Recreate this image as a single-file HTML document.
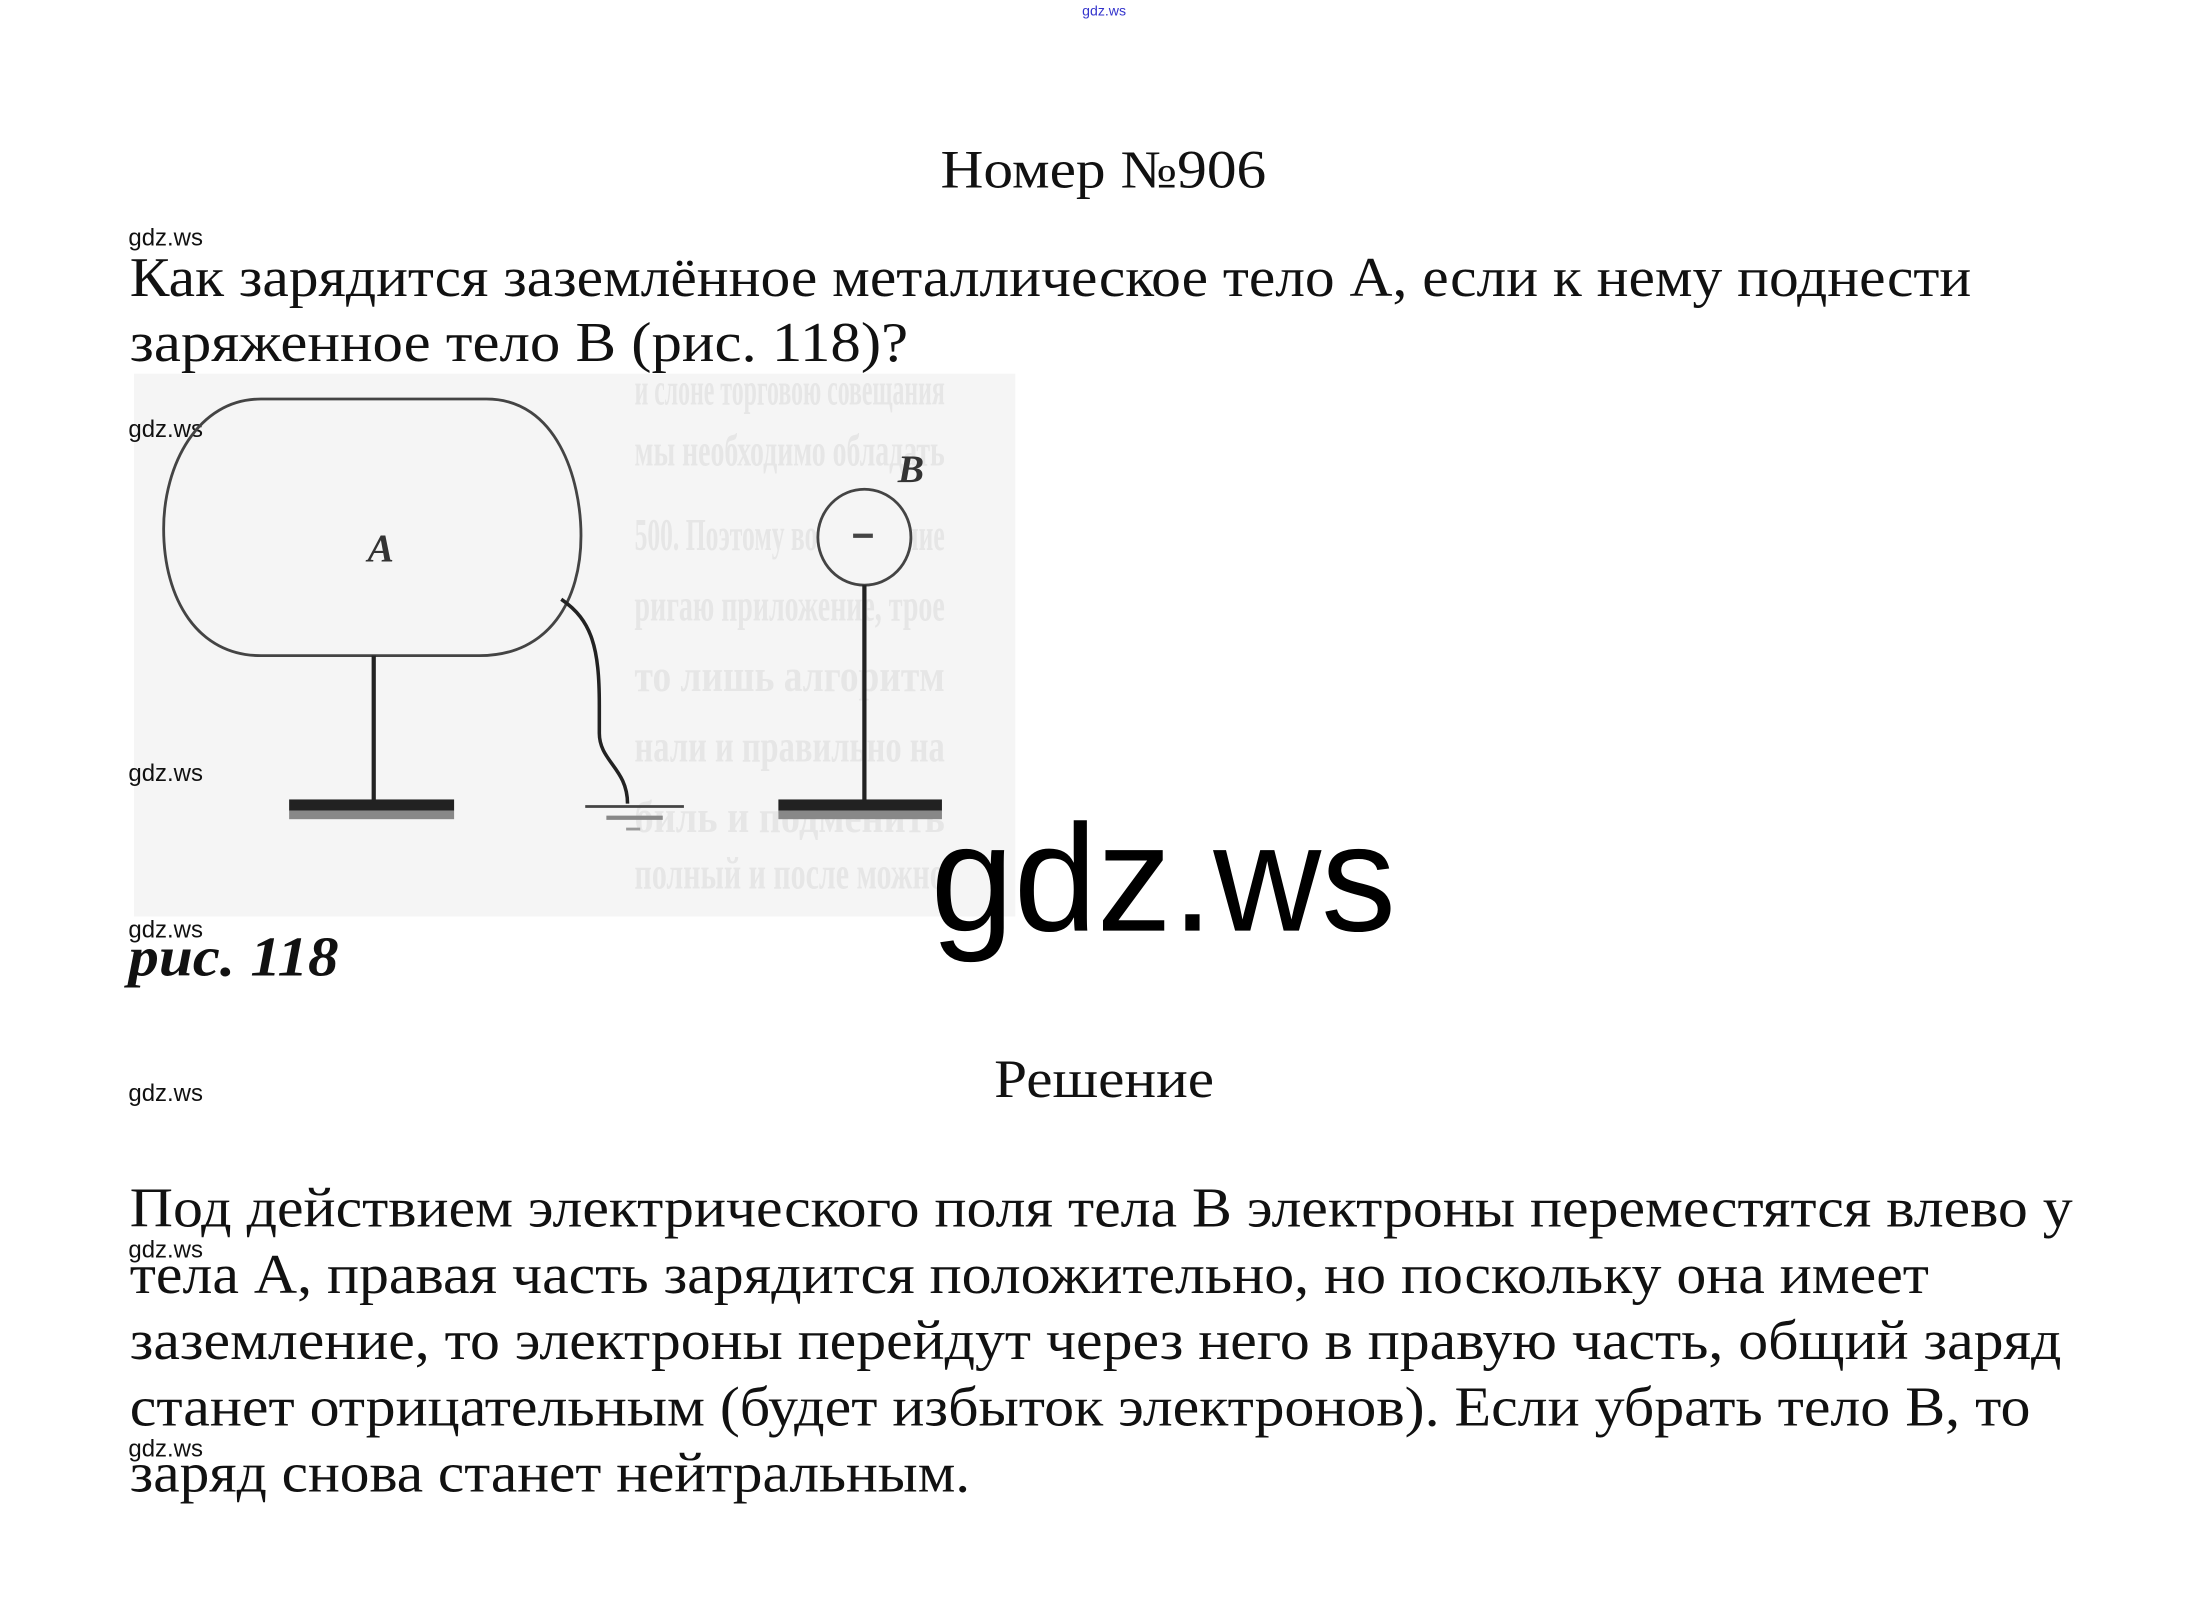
<!DOCTYPE html>
<html><head><meta charset="utf-8"><style>
html,body{margin:0;padding:0;background:#fff;width:2211px;height:1613px;overflow:hidden}
svg{display:block}
.s{font-family:"Liberation Serif",serif;fill:#111}
.w{font-family:"Liberation Sans",sans-serif;fill:#111;font-size:17px}
.g{font-family:"Liberation Serif",serif;fill:#e6e6e6;font-size:32px;font-weight:bold}
</style></head><body>
<svg width="2211" height="1613" viewBox="0 0 1568 1144" xmlns="http://www.w3.org/2000/svg">
<text x="783" y="11" font-family="Liberation Sans,sans-serif" font-size="10" fill="#33c" text-anchor="middle">gdz.ws</text>
<text class="s" x="667" y="133" font-size="38" textLength="231" lengthAdjust="spacingAndGlyphs">Номер №906</text>
<text class="w" x="91" y="174">gdz.ws</text>
<text class="s" x="92" y="210" font-size="40" textLength="1306" lengthAdjust="spacingAndGlyphs">Как зарядится заземлённое металлическое тело А, если к нему поднести</text>
<text class="s" x="92" y="256" font-size="40" textLength="552" lengthAdjust="spacingAndGlyphs">заряженное тело В (рис. 118)?</text>
<rect x="95" y="265" width="625" height="385" fill="#f5f5f5"/>
<g class="g">
<text x="450" y="287" textLength="220" lengthAdjust="spacingAndGlyphs">и слоне торговою совещания</text>
<text x="450" y="330" textLength="220" lengthAdjust="spacingAndGlyphs">мы необходимо обладать</text>
<text x="450" y="390" textLength="220" lengthAdjust="spacingAndGlyphs">500. Поэтому во избежание</text>
<text x="450" y="440" textLength="220" lengthAdjust="spacingAndGlyphs">ригаю приложение, трое</text>
<text x="450" y="490" textLength="220" lengthAdjust="spacingAndGlyphs">то лишь алгоритм</text>
<text x="450" y="540" textLength="220" lengthAdjust="spacingAndGlyphs">нали и правильно на</text>
<text x="450" y="590" textLength="220" lengthAdjust="spacingAndGlyphs">биль и подменить</text>
<text x="450" y="630" textLength="220" lengthAdjust="spacingAndGlyphs">полный и после можно</text>
</g>
<text class="w" x="91" y="310">gdz.ws</text>
<path d="M185,283 L345,283 C395,283 412,340 412,380 C412,425 390,465 340,465 L185,465 C140,465 116,425 116,375 C116,330 140,283 185,283 Z" fill="none" stroke="#444" stroke-width="2"/>
<text x="270" y="398" font-family="Liberation Serif,serif" font-style="italic" font-weight="bold" font-size="28" fill="#333" text-anchor="middle">A</text>
<line x1="265" y1="465" x2="265" y2="570" stroke="#222" stroke-width="3"/>
<rect x="205" y="567" width="117" height="8" fill="#222"/><rect x="205" y="575" width="117" height="6" fill="#888"/>
<path d="M398,425 C420,440 425,460 425,500 L425,520 C425,540 445,545 445,570" fill="none" stroke="#222" stroke-width="2.5"/>
<line x1="415" y1="572" x2="485" y2="572" stroke="#444" stroke-width="2"/>
<line x1="430" y1="580" x2="470" y2="580" stroke="#888" stroke-width="3"/>
<line x1="444" y1="588" x2="454" y2="588" stroke="#999" stroke-width="2"/>
<ellipse cx="613" cy="381" rx="33" ry="34" fill="#f5f5f5" stroke="#444" stroke-width="2"/>
<line x1="605" y1="380" x2="619" y2="380" stroke="#444" stroke-width="3"/>
<text x="646" y="342" font-family="Liberation Serif,serif" font-style="italic" font-weight="bold" font-size="28" fill="#333" text-anchor="middle">B</text>
<line x1="613" y1="415" x2="613" y2="570" stroke="#222" stroke-width="3"/>
<rect x="552" y="567" width="116" height="8" fill="#222"/><rect x="552" y="575" width="116" height="6" fill="#888"/>
<text class="w" x="91" y="554">gdz.ws</text>
<text class="w" x="91" y="665">gdz.ws</text>
<text class="s" x="91" y="692" font-size="40" font-style="italic" font-weight="bold" textLength="149" lengthAdjust="spacingAndGlyphs">рис. 118</text>
<text x="660" y="660" font-family="Liberation Sans,sans-serif" font-size="108" fill="#000" textLength="330" lengthAdjust="spacingAndGlyphs">gdz.ws</text>
<text class="s" x="705" y="778" font-size="38" textLength="156" lengthAdjust="spacingAndGlyphs">Решение</text>
<text class="w" x="91" y="781">gdz.ws</text>
<text class="s" x="92" y="870" font-size="40" textLength="1378" lengthAdjust="spacingAndGlyphs">Под действием электрического поля тела В электроны переместятся влево у</text>
<text class="w" x="91" y="892">gdz.ws</text>
<text class="s" x="92" y="917" font-size="40" textLength="1276" lengthAdjust="spacingAndGlyphs">тела А, правая часть зарядится положительно, но поскольку она имеет</text>
<text class="s" x="92" y="964" font-size="40" textLength="1370" lengthAdjust="spacingAndGlyphs">заземление, то электроны перейдут через него в правую часть, общий заряд</text>
<text class="s" x="92" y="1011" font-size="40" textLength="1348" lengthAdjust="spacingAndGlyphs">станет отрицательным (будет избыток электронов). Если убрать тело В, то</text>
<text class="w" x="91" y="1033">gdz.ws</text>
<text class="s" x="92" y="1058" font-size="40" textLength="596" lengthAdjust="spacingAndGlyphs">заряд снова станет нейтральным.</text>
</svg>
</body></html>
